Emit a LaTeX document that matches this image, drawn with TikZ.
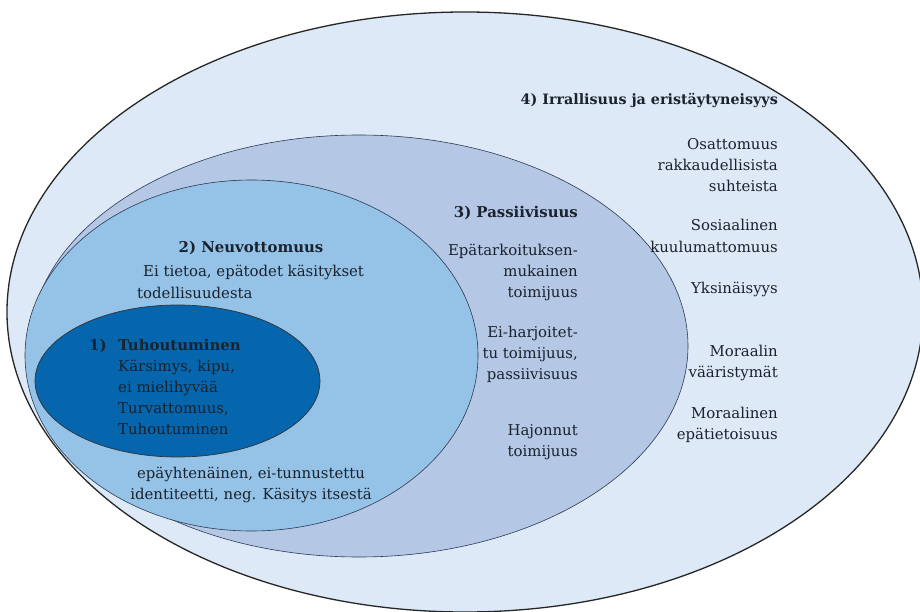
\documentclass[tikz,border=0pt]{standalone}
\usepackage{fontspec}
\setmainfont{DejaVu Serif}
\usetikzlibrary{shapes.geometric}
\definecolor{cfour}{HTML}{DDE9F6}
\definecolor{cthree}{HTML}{B4C8E6}
\definecolor{ctwo}{HTML}{95C3E8}
\definecolor{cone}{HTML}{0565AD}
\definecolor{ink}{HTML}{1A222D}
\definecolor{edge}{HTML}{2B3A4F}
\begin{document}
\begin{tikzpicture}[x=1pt,y=-1pt,
  ell/.style={ellipse, inner sep=0pt, draw=edge, line width=0.6pt},
  txt/.style={font=\fontsize{14.9}{21}\selectfont, text=ink, inner sep=0pt},
  rt/.style={txt, anchor=base east, align=right},
  lt/.style={txt, anchor=base west, align=left},
  ct/.style={txt, anchor=base, align=center}]
\useasboundingbox (0,0) rectangle (920,612);
\fill[white] (0,0) rectangle (920,612);
\node[ell, fill=cfour, draw=black!85, line width=1.3pt, minimum width=916pt, minimum height=600pt] (e4) at (465,312) {};
\node[ell, fill=cthree, minimum width=658pt, minimum height=422pt] (e3) at (359,346) {};
\node[ell, fill=ctwo, minimum width=453pt, minimum height=351pt] (e2) at (251.5,355.5) {};
\node[ell, fill=cone, draw=black!80, line width=0.7pt, minimum width=285pt, minimum height=152pt] (e1) at (177.5,381) {};

% multi-line nodes: base anchor sits on the last line
\node[rt] (t4) at (778,105) {\fontsize{14.3}{21}\selectfont\bfseries 4) Irrallisuus ja eristäytyneisyys};
\node[rt] (t4a) at (778,192) {Osattomuus\\rakkaudellisista\\suhteista};
\node[rt] (t4b) at (778,252) {Sosiaalinen\\kuulumattomuus};
\node[rt] (t4c) at (778,293) {Yksinäisyys};
\node[rt] (t4d) at (778,377) {Moraalin\\vääristymät};
\node[rt] (t4e) at (778,439) {Moraalinen\\epätietoisuus};

\node[rt] (t3) at (578,218) {\bfseries 3) Passiivisuus};
\node[rt] (t3a) at (578,297) {Epätarkoituksen-\\mukainen\\toimijuus};
\node[rt] (t3b) at (578,379) {Ei-harjoitet-\\tu toimijuus,\\passiivisuus};
\node[rt] (t3c) at (578,456) {Hajonnut\\toimijuus};

\node[ct] (t2) at (251,252) {\bfseries 2) Neuvottomuus};
\node[lt] (t2a) at (137,298) {\hspace{6pt}Ei tietoa, epätodet käsitykset\\todellisuudesta};
\node[ct] (t2b) at (251,499) {epäyhtenäinen, ei-tunnustettu\\identiteetti, neg. Käsitys itsestä};

\node[lt] (t1n) at (89,350) {\bfseries 1)};
\node[lt] (t1) at (118,434) {{\bfseries Tuhoutuminen}\\Kärsimys, kipu,\\ei mielihyvää\\Turvattomuus,\\Tuhoutuminen};
\end{tikzpicture}
\end{document}
